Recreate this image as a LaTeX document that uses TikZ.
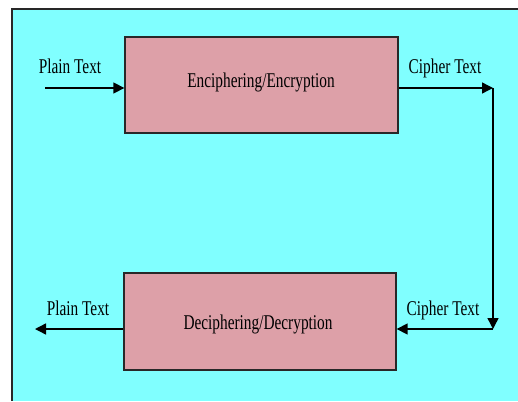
\documentclass[tikz,border=0pt]{standalone}
\usepackage{fontspec}
\setmainfont{Liberation Serif}
\usetikzlibrary{arrows.meta}
\definecolor{panel}{RGB}{128,255,255}
\definecolor{boxfill}{RGB}{221,160,168}
\definecolor{edge}{RGB}{40,40,40}
% narrow, tall lettering
\newcommand{\narrowtext}[1]{\scalebox{0.73}[1]{#1}}
\tikzset{
  stage/.style={draw=edge, line width=1.3pt, fill=boxfill, inner sep=0pt},
  lbl/.style={font=\fontsize{21}{25}\selectfont, inner sep=0pt, anchor=base},
  flow/.style={line width=1.4pt, -{Triangle[length=11pt,width=11pt]}},
}
\begin{document}
\begin{tikzpicture}[x=1pt,y=-1pt]
  \useasboundingbox (0,0) rectangle (518,401);
  % background panel
  \fill[panel] (12,9) rectangle (518,401);
  \draw[edge, line width=1.5pt] (12,401) -- (12,9) -- (518,9);

  % the two stages
  \node[stage, minimum width=273pt, minimum height=96pt] (enc) at (261.5,85) {};
  \node[lbl] (enctxt) at (261,88) {\narrowtext{Enciphering/Encryption}};
  \node[stage, minimum width=272pt, minimum height=97pt] (dec) at (260,321.5) {};
  \node[lbl] (dectxt) at (258,329) {\narrowtext{Deciphering/Decryption}};

  % routing points
  \coordinate (pin) at (45,88);
  \coordinate (c1) at (493,88);
  \coordinate (c2) at (493,329);
  \coordinate (pout) at (35,329);

  % connectors
  \draw[flow] (pin) -- (enc.west |- pin);
  \draw[flow] (enc.east |- c1) -- (c1);
  \draw[flow] (c1) -- (c2);
  \draw[flow] (c2) -- (dec.east |- c2);
  \draw[flow] (dec.west |- pout) -- (pout);

  % labels
  \node[lbl] (l1) at (70,74) {\narrowtext{Plain Text}};
  \node[lbl] (l2) at (445,74) {\narrowtext{Cipher Text}};
  \node[lbl] (l3) at (443,315) {\narrowtext{Cipher Text}};
  \node[lbl] (l4) at (78,315) {\narrowtext{Plain Text}};
\end{tikzpicture}
\end{document}
